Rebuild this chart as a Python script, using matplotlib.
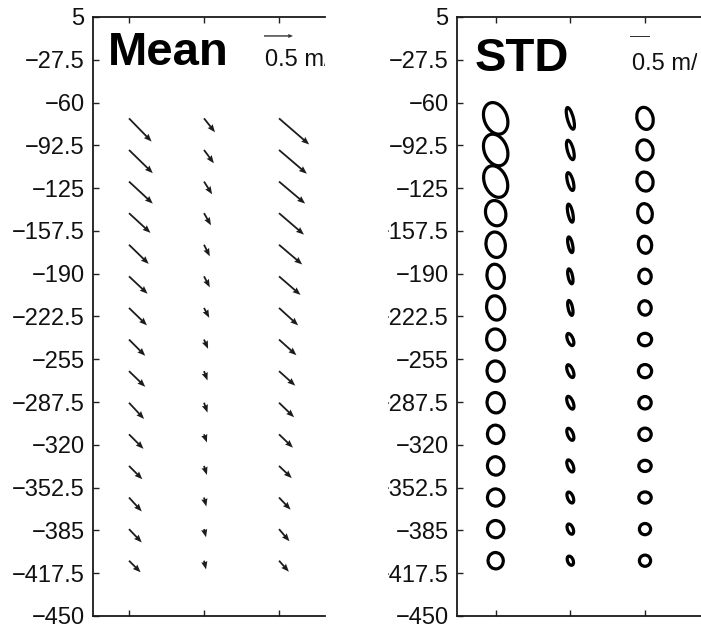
import numpy as np
import matplotlib
matplotlib.use("Agg")
import matplotlib.pyplot as plt
from matplotlib.collections import EllipseCollection
from matplotlib.transforms import Bbox, TransformedBbox

plt.rcParams['font.family'] = ['Liberation Sans', 'DejaVu Sans']

# ---------------- data ----------------
stations = [1, 2, 3]
depths = [-72, -96, -120, -144, -168, -192, -216, -240, -264, -288,
          -312, -336, -360, -384, -408]
ytick_values = [5, -27.5, -60, -92.5, -125, -157.5, -190, -222.5, -255,
                -287.5, -320, -352.5, -385, -417.5, -450]

# mean velocity (m/s), one list per station (top to bottom)
mean_u = [
    [0.39, 0.41, 0.41, 0.37, 0.34, 0.32, 0.31, 0.28, 0.28, 0.26, 0.25, 0.23, 0.22, 0.22, 0.20],
    [0.19, 0.17, 0.14, 0.12, 0.10, 0.10, 0.09, 0.07, 0.06, 0.06, 0.05, 0.05, 0.04, 0.035, 0.035],
    [0.52, 0.48, 0.45, 0.43, 0.40, 0.37, 0.33, 0.30, 0.28, 0.26, 0.24, 0.22, 0.20, 0.18, 0.17],
]
mean_v = [
    [-0.40, -0.40, -0.38, -0.34, -0.33, -0.30, -0.30, -0.28, -0.27, -0.28, -0.25, -0.23, -0.24, -0.23, -0.20],
    [-0.24, -0.23, -0.22, -0.21, -0.20, -0.19, -0.17, -0.16, -0.16, -0.17, -0.14, -0.155, -0.155, -0.14, -0.15],
    [-0.45, -0.41, -0.38, -0.37, -0.34, -0.32, -0.30, -0.27, -0.25, -0.25, -0.23, -0.21, -0.21, -0.21, -0.19],
]

# STD ellipses: semi-axes (m/s) and tilt (deg, counter-clockwise from vertical)
std_a = [
    [0.285, 0.285, 0.28, 0.25, 0.24, 0.215, 0.225, 0.225, 0.215, 0.215, 0.205, 0.205, 0.205, 0.205, 0.19],
    [0.075, 0.075, 0.07, 0.06, 0.055, 0.055, 0.055, 0.07, 0.07, 0.07, 0.07, 0.07, 0.07, 0.07, 0.07],
    [0.20, 0.20, 0.20, 0.18, 0.165, 0.155, 0.155, 0.165, 0.165, 0.155, 0.155, 0.155, 0.155, 0.14, 0.14],
]
std_b = [
    [0.41, 0.41, 0.41, 0.32, 0.32, 0.305, 0.305, 0.265, 0.255, 0.255, 0.23, 0.23, 0.215, 0.215, 0.205],
    [0.28, 0.25, 0.23, 0.23, 0.20, 0.19, 0.19, 0.16, 0.17, 0.17, 0.16, 0.16, 0.145, 0.135, 0.12],
    [0.28, 0.255, 0.24, 0.24, 0.215, 0.18, 0.18, 0.155, 0.165, 0.155, 0.155, 0.14, 0.14, 0.14, 0.14],
]
std_angle = [
    [22, 22, 22, 15, 10, 10, 10, 10, 8, 8, 8, 8, 8, 8, 8],
    [15, 15, 15, 12, 12, 12, 12, 22, 22, 22, 22, 22, 22, 22, 22],
    [15, 15, 15, 12, 10, 5, 5, 0, 0, 0, 0, 0, 0, 0, 0],
]

scale_value = 0.5
scale_label = "0.5 m/s"

# ---------------- styling / layout ----------------
W, H, DPI = 701, 631, 100
MEAN_PX_PER_MS = 58.0
STD_PX_PER_MS = 40.0
TICK_FS = 17

fig = plt.figure(figsize=(W / DPI, H / DPI), dpi=DPI)
ax1 = fig.add_axes([93 / W, 15 / H, 232 / W, 599 / H])
ax2 = fig.add_axes([457 / W, 15 / H, 244 / W, 599 / H])


def fmt(v):
    s = f"{v:g}"
    return s.replace("-", "\u2212")


for ax, xl in ((ax1, (0.52, 3.613)), (ax2, (0.482, 3.75))):
    ax.set_xlim(*xl)
    ax.set_ylim(-450, 5)
    ax.set_xticks(stations)
    ax.set_xticklabels([])
    ax.set_yticks(ytick_values)
    ax.set_yticklabels([fmt(v) for v in ytick_values])
    ax.tick_params(axis='both', direction='in', length=4, width=1.0,
                   color='#222222', top=True, bottom=True, right=False)
    ax.tick_params(axis='y', labelsize=TICK_FS, pad=6, labelcolor='#111111')
    ax.spines['right'].set_visible(False)
    for s in ('left', 'top', 'bottom'):
        ax.spines[s].set_linewidth(1.3)
        ax.spines[s].set_color('#1a1a1a')

X, Y = np.meshgrid(stations, depths)
U = np.array(mean_u).T
V = np.array(mean_v).T

qkw = dict(angles='uv', scale_units='dots', scale=1 / MEAN_PX_PER_MS,
           units='dots', width=1.8, headwidth=3.5, headlength=4.4,
           headaxislength=4.0, color='#1c1c1c', zorder=3)
ax1.quiver(X, Y, U, V, **qkw)
# scale arrow
ax1.quiver([2.80], [-9.4], [scale_value], [0.0], angles='uv',
           scale_units='dots', scale=1 / MEAN_PX_PER_MS, units='dots',
           width=1.4, headwidth=3.0, headlength=3.5, headaxislength=3.2,
           color='#333333', zorder=3)
ax1.text(2.81, -32.2, scale_label, fontsize=TICK_FS, clip_on=True, color='#111111')
ax1.text(0.72, -31.5, "Mean", fontsize=34, fontweight='bold')

# STD ellipses
A = np.array(std_a).T.ravel()
B = np.array(std_b).T.ravel()
ANG = np.array(std_angle).T.ravel()
offsets = np.column_stack([X.ravel(), Y.ravel()])
ec = EllipseCollection(2 * A * STD_PX_PER_MS, 2 * B * STD_PX_PER_MS, ANG,
                       units='dots', offsets=offsets,
                       offset_transform=ax2.transData,
                       facecolors='none', edgecolors='black', linewidths=2.3,
                       zorder=3)
ax2.add_collection(ec)
# scale bar for ellipses
ax2.quiver([2.798], [-10.0], [scale_value], [0.0], angles='uv',
           scale_units='dots', scale=1 / STD_PX_PER_MS, units='dots',
           width=1.4, headwidth=0, headlength=0, headaxislength=0,
           color='#333333')
t2 = ax2.text(2.825, -35.3, scale_label, fontsize=TICK_FS, color='#111111')
t2.set_clip_box(TransformedBbox(Bbox.from_extents(457 / W, 0, 697 / W, 1),
                                fig.transFigure))
t2.set_clip_on(True)
ax2.text(0.723, -36.0, "STD", fontsize=34, fontweight='bold')

# the right panel's labels are cut off on their left side
clip = TransformedBbox(Bbox.from_extents(388 / W, 0, 1, 1), fig.transFigure)
for t in ax2.yaxis.get_major_ticks():
    t.label1.set_clip_box(clip)
    t.label1.set_clip_on(True)

fig.savefig("out.png", dpi=DPI)
